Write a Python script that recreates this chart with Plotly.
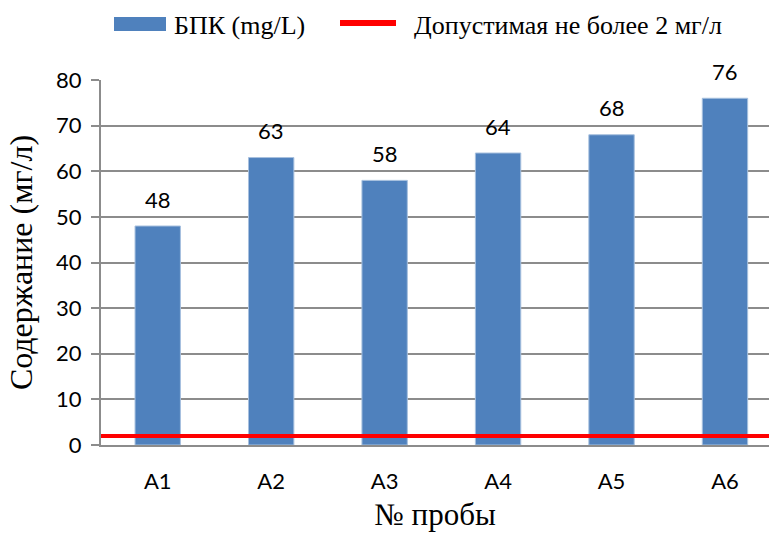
import plotly.graph_objects as go

# Sample IDs and measured BOD values (mg/L)
samples = ["A1", "A2", "A3", "A4", "A5", "A6"]
bod_values = [48, 63, 58, 64, 68, 76]
limit_value = 2

bar_name = "БПК (mg/L)"
limit_name = "Допустимая не более 2 мг/л"

y_ticks = [0, 10, 20, 30, 40, 50, 60, 70, 80]

x_pos = list(range(len(samples)))
x_range = [-0.5, len(samples) - 0.612]

W, H = 769, 537
ML, MR, MT, MB = 101, 0, 80, 92
PW, PH = W - ML - MR, H - MT - MB

bar_color = "#4F81BD"
limit_color = "#FF0000"
grid_color = "#8C8C8C"
sans = "Lato, Open Sans, sans-serif"
serif = "Liberation Serif, Times New Roman, serif"


def px_x(px):
    """Pixel column -> paper x."""
    return (px - ML) / PW


def px_y(py):
    """Pixel row -> paper y."""
    return (H - MB - py) / PH


fig = go.Figure()

fig.add_trace(go.Bar(
    x=x_pos,
    y=bod_values,
    width=0.4,
    name=bar_name,
    showlegend=False,
    marker=dict(color=bar_color, line=dict(color="#A7C0DE", width=1)),
))

fig.add_trace(go.Scatter(
    x=[x_range[0] - 0.04, x_range[1]],
    y=[limit_value, limit_value],
    mode="lines",
    name=limit_name,
    showlegend=False,
    line=dict(color=limit_color, width=4),
    cliponaxis=False,
))

# Value labels above each bar
for xp, v in zip(x_pos, bod_values):
    fig.add_annotation(
        x=xp, y=v, text=str(v), showarrow=False,
        yshift=27, font=dict(family=sans, size=22, color="#000000"),
    )

# Legend row across the top: wide colour key followed by its label
legend_font = dict(family=serif, size=26, color="#000000")
fig.add_shape(type="rect", xref="paper", yref="paper",
              x0=px_x(114), x1=px_x(166), y0=px_y(31), y1=px_y(17),
              fillcolor=bar_color, line=dict(width=0))
fig.add_annotation(xref="paper", yref="paper", x=px_x(172), y=px_y(25),
                   xanchor="left", yanchor="middle", text=bar_name,
                   showarrow=False, font=legend_font)
fig.add_shape(type="line", xref="paper", yref="paper",
              x0=px_x(340), x1=px_x(396), y0=px_y(23), y1=px_y(23),
              line=dict(color=limit_color, width=6))
fig.add_annotation(xref="paper", yref="paper", x=px_x(412), y=px_y(25),
                   xanchor="left", yanchor="middle", text=limit_name,
                   showarrow=False, font=legend_font)

fig.update_layout(
    width=W,
    height=H,
    margin=dict(l=ML, r=MR, t=MT, b=MB),
    paper_bgcolor="white",
    plot_bgcolor="white",
    bargap=0.6,
    showlegend=False,
    xaxis=dict(
        range=x_range,
        tickmode="array",
        tickvals=x_pos,
        ticktext=samples,
        showgrid=False,
        showline=True,
        linecolor=grid_color,
        linewidth=2,
        ticks="",
        ticklabelstandoff=16,
        tickfont=dict(family=sans, size=22, color="#000000"),
        title=dict(text="№ пробы", font=dict(family=serif, size=31, color="#000000"), standoff=10),
        zeroline=False,
        automargin=False,
    ),
    yaxis=dict(
        range=[0, 80],
        tickmode="array",
        tickvals=y_ticks,
        showgrid=True,
        gridcolor=grid_color,
        gridwidth=1.5,
        showline=True,
        linecolor=grid_color,
        linewidth=2,
        ticks="outside",
        ticklen=8,
        tickcolor=grid_color,
        tickwidth=1.5,
        ticklabelstandoff=5,
        tickfont=dict(family=sans, size=22, color="#000000"),
        title=dict(text="Содержание (мг/л)", font=dict(family=serif, size=32, color="#000000"), standoff=14),
        zeroline=False,
        automargin=False,
    ),
)

fig.write_html("out.html")
